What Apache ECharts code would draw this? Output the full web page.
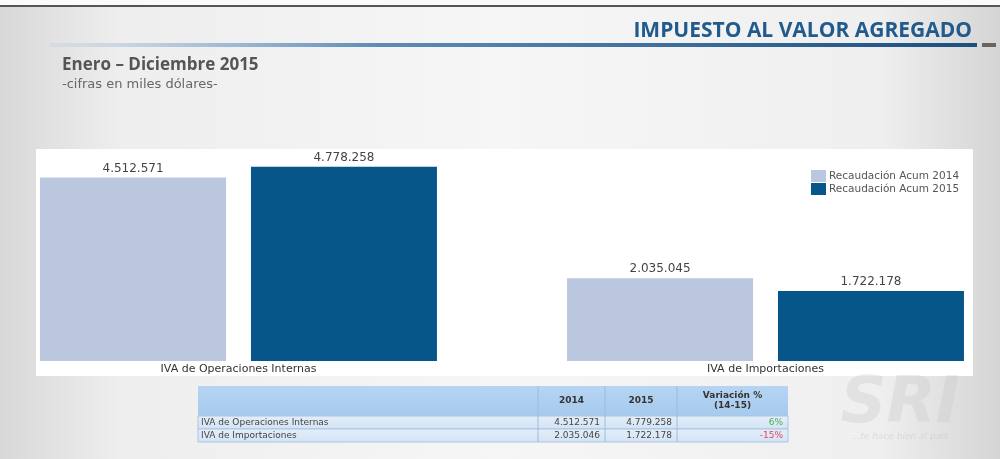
<!DOCTYPE html>
<html>
<head>
<meta charset="utf-8">
<script src="https://cdn.jsdelivr.net/npm/echarts@6/dist/echarts.min.js"></script>
<style>
  html, body { margin: 0; padding: 0; }
  #main { width: 1000px; height: 459px; }
</style>
</head>
<body>
<div id="main"></div>
<script>
var chart = echarts.init(document.getElementById('main'), null, {renderer: 'canvas'});

// datos (miles de dólares)
var categorias = ['IVA de Operaciones Internas', 'IVA de Importaciones'];
var serie2014 = [4512571, 2035045];
var serie2015 = [4778258, 1722178];
var nombres = ['Recaudación Acum 2014', 'Recaudación Acum 2015'];

// tabla de abajo
var tablaCabecera = ['', '2014', '2015', 'Variación %\n(14-15)'];
var tablaFilas = [
    ['IVA de Operaciones Internas', '4.512.571', '4.779.258', '6%'],
    ['IVA de Importaciones', '2.035.046', '1.722.178', '-15%']
];

var azulClaro = '#bac7de';
var azulOscuro = '#07568a';

function miles(v) {
    return String(v).replace(/\B(?=(\d{3})+(?!\d))/g, '.');
}

// armar la tabla con graphic
var colX = [198, 538, 605, 677, 788];
var filaY = [386, 416, 429, 442];
var tabla = [];
tabla.push({type: 'rect', shape: {x: colX[0], y: filaY[0], width: colX[4] - colX[0], height: filaY[1] - filaY[0]},
    style: {fill: new echarts.graphic.LinearGradient(0, 0, 0, 1, [{offset: 0, color: '#b6d5f3'}, {offset: 1, color: '#a6c9ed'}])}});
for (var r = 0; r < tablaFilas.length; r++) {
    tabla.push({type: 'rect', shape: {x: colX[0], y: filaY[r + 1], width: colX[4] - colX[0], height: filaY[r + 2] - filaY[r + 1]},
        style: {fill: new echarts.graphic.LinearGradient(0, 0, 0, 1, [{offset: 0, color: '#e4eef9'}, {offset: 1, color: '#d3e3f4'}]),
            stroke: '#a9c5e3', lineWidth: 1}});
}
for (var c = 1; c < 4; c++) {
    tabla.push({type: 'line', shape: {x1: colX[c], y1: filaY[0], x2: colX[c], y2: filaY[3]}, style: {stroke: '#9ebcdc', lineWidth: 1}});
    tabla.push({type: 'text', style: {text: tablaCabecera[c], x: (colX[c] + colX[c + 1]) / 2, y: (filaY[0] + filaY[1]) / 2,
        align: 'center', verticalAlign: 'middle', font: 'bold 9px "DejaVu Sans"', fill: '#333', lineHeight: 10}});
}
for (var r = 0; r < tablaFilas.length; r++) {
    var yc = (filaY[r + 1] + filaY[r + 2]) / 2;
    tabla.push({type: 'text', style: {text: tablaFilas[r][0], x: colX[0] + 3, y: yc, align: 'left', verticalAlign: 'middle',
        font: '9px "DejaVu Sans"', fill: '#444'}});
    for (var c = 1; c < 4; c++) {
        var col = '#444';
        if (c === 3) col = tablaFilas[r][3].charAt(0) === '-' ? '#e5475a' : '#4caf50';
        tabla.push({type: 'text', style: {text: tablaFilas[r][c], x: colX[c + 1] - 5, y: yc, align: 'right', verticalAlign: 'middle',
            font: '9px "DejaVu Sans"', fill: col}});
    }
}

var option = {
    animation: false,
    backgroundColor: new echarts.graphic.LinearGradient(0, 0, 1, 0, [
        {offset: 0, color: '#d8d8d8'}, {offset: 0.12, color: '#eeeeee'},
        {offset: 0.5, color: '#f6f6f6'}, {offset: 0.88, color: '#efefef'}, {offset: 1, color: '#d5d5d5'}
    ]),
    graphic: [
        {type: 'rect', shape: {x: 0, y: 5, width: 1000, height: 2}, style: {fill: '#555'}},
        {type: 'rect', shape: {x: 0, y: 0, width: 1000, height: 5}, style: {fill: '#fafafa'}},
        {type: 'rect', shape: {x: 50, y: 43, width: 927, height: 4},
            style: {fill: new echarts.graphic.LinearGradient(0, 0, 1, 0, [
                {offset: 0, color: 'rgba(120,160,200,0.1)'}, {offset: 0.35, color: '#5d8cb8'}, {offset: 1, color: '#1b4f80'}])}},
        {type: 'rect', shape: {x: 982, y: 43, width: 14, height: 4}, style: {fill: '#666'}},
        {type: 'text', style: {text: 'IMPUESTO AL VALOR AGREGADO', x: 972, y: 42, align: 'right', verticalAlign: 'bottom',
            font: 'bold 21px "Open Sans"', fill: '#215a8c'}},
        {type: 'text', style: {text: 'Enero – Diciembre 2015', x: 62, y: 65, verticalAlign: 'middle',
            font: 'bold 17px "Open Sans"', fill: '#555'}},
        {type: 'text', style: {text: '-cifras en miles dólares-', x: 62, y: 85, verticalAlign: 'middle',
            font: '13px "DejaVu Sans"', fill: '#666'}},
        {type: 'rect', shape: {x: 36, y: 149, width: 937, height: 227}, style: {fill: '#ffffff'}},
        {type: 'text', style: {text: 'SRI', x: 900, y: 405, align: 'center', verticalAlign: 'middle',
            font: 'italic bold 64px "DejaVu Sans"', fill: 'rgba(200,200,200,0.35)'}},
        {type: 'text', style: {text: '...te hace bien al país', x: 900, y: 437, align: 'center', verticalAlign: 'middle',
            font: 'italic 9px "DejaVu Sans"', fill: 'rgba(190,190,190,0.4)'}}
    ].concat(tabla),
    legend: {
        data: nombres,
        orient: 'vertical',
        left: 806,
        top: 165,
        itemWidth: 15,
        itemHeight: 12,
        itemGap: 1,
        icon: 'rect',
        textStyle: {fontFamily: 'DejaVu Sans', fontSize: 10.5, color: '#555', padding: [0, 0, 0, -2]}
    },
    grid: {left: -25, width: 1054, bottom: 98, top: 117, outerBoundsMode: 'none', containLabel: false},
    xAxis: {
        type: 'category',
        data: categorias,
        axisLine: {show: false},
        axisTick: {show: false},
        axisLabel: {margin: 3, fontFamily: 'DejaVu Sans', fontSize: 11, color: '#333'}
    },
    yAxis: {
        type: 'value',
        min: 0,
        max: 6000000,
        show: false,
        splitLine: {show: false}
    },
    series: [
        {name: nombres[0], type: 'bar', data: serie2014, barWidth: 186, barGap: '13.4%',
            itemStyle: {color: azulClaro},
            label: {show: true, position: 'top', distance: 3, fontFamily: 'DejaVu Sans', fontSize: 12, color: '#444',
                formatter: function (p) { return miles(p.value); }}},
        {name: nombres[1], type: 'bar', data: serie2015, barWidth: 186,
            itemStyle: {color: azulOscuro},
            label: {show: true, position: 'top', distance: 3, fontFamily: 'DejaVu Sans', fontSize: 12, color: '#444',
                formatter: function (p) { return miles(p.value); }}}
    ]
};

chart.setOption(option);
</script>
</body>
</html>
